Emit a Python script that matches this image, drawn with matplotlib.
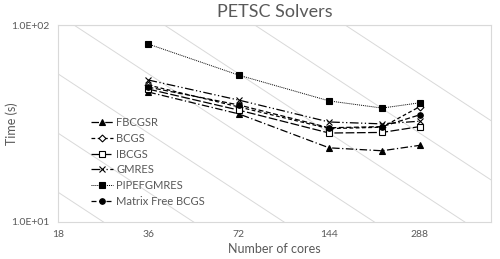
import matplotlib
matplotlib.use("Agg")
import matplotlib.pyplot as plt
import numpy as np

plt.rcParams['font.family'] = ['Lato', 'DejaVu Sans']

CORES = [36, 72, 144, 216, 288]
FBCGSR = [45.7, 35.4, 23.8, 23.0, 24.5]
BCGS = [49.6, 38.4, 29.8, 30.3, 38.5]
IBCGS = [47.3, 37.0, 28.3, 28.5, 30.5]
GMRES = [52.6, 41.6, 32.2, 31.5, 32.5]
PIPEFGMRES = [80.1, 55.7, 41.2, 37.9, 40.3]
MATRIX_FREE_BCGS = [48.4, 39.3, 30.1, 30.5, 35.0]

X_TICKS = [18, 36, 72, 144, 288]
Y_TICKS = [10, 100]
Y_TICK_LABELS = ["1.0E+01", "1.0E+02"]

# cores * time for the grey ideal-scaling guide lines
IDEAL_PRODUCTS = [255, 509, 1018, 2036, 4073, 8146, 16291]

GRID = "#d9d9d9"
TEXT = "#595959"

fig = plt.figure(figsize=(5.0, 2.59), dpi=100)
ax = fig.add_axes([0.116, 0.143, 0.866, 0.760])

# guide lines
xs = np.array([10.0, 1000.0])
for c in IDEAL_PRODUCTS:
    ax.plot(xs, c / xs, color=GRID, lw=0.7, zorder=0)

ax.axhline(100, color=GRID, lw=0.8, zorder=0)

series = [
    ("FBCGSR", FBCGSR, dict(marker="^", ls=(0, (6, 2, 1, 2)), mfc="black")),
    ("BCGS", BCGS, dict(marker="D", ls=(0, (3, 2)), mfc="white", ms=3.5)),
    ("IBCGS", IBCGS, dict(marker="s", ls=(0, (7, 2)), mfc="white")),
    ("GMRES", GMRES, dict(marker="x", ls=(0, (7, 2, 1, 2, 1, 2)), mfc="black")),
    ("PIPEFGMRES", PIPEFGMRES, dict(marker="s", ls=(0, (1, 1)), mfc="black", lw=0.7)),
    ("Matrix Free BCGS", MATRIX_FREE_BCGS, dict(marker="o", ls=(0, (4, 2)), mfc="black")),
]
for name, vals, style in series:
    kw = dict(color="black", lw=0.9, ms=4, mec="black", mew=0.8)
    kw.update(style)
    ax.plot(CORES, vals, label=name, **kw)

ax.set_xscale("log", base=2)
ax.set_yscale("log")
ax.set_xlim(18, 498)
ax.set_ylim(10, 100)

ax.set_xticks(X_TICKS)
ax.set_xticklabels([str(t) for t in X_TICKS])
ax.xaxis.set_minor_locator(matplotlib.ticker.NullLocator())
ax.set_yticks(Y_TICKS)
ax.set_yticklabels(Y_TICK_LABELS)
ax.yaxis.set_minor_locator(matplotlib.ticker.NullLocator())
ax.tick_params(length=0, labelsize=7.5, colors=TEXT, pad=6)

for sp in ax.spines.values():
    sp.set_color(GRID)
    sp.set_linewidth(0.8)

ax.set_xlabel("Number of cores", fontsize=9, color=TEXT, labelpad=3)
ax.set_ylabel("Time (s)", fontsize=9, color=TEXT)
ax.yaxis.set_label_coords(-0.092, 0.5)
ax.set_title("PETSC Solvers", fontsize=13, color=TEXT, pad=6)

leg = ax.legend(loc="lower left", bbox_to_anchor=(0.065, 0.055), frameon=False,
                fontsize=8, handlelength=2.0, handletextpad=0.3,
                labelspacing=0.42, borderaxespad=0)
for t in leg.get_texts():
    t.set_color(TEXT)

fig.savefig("out.png", dpi=100)
